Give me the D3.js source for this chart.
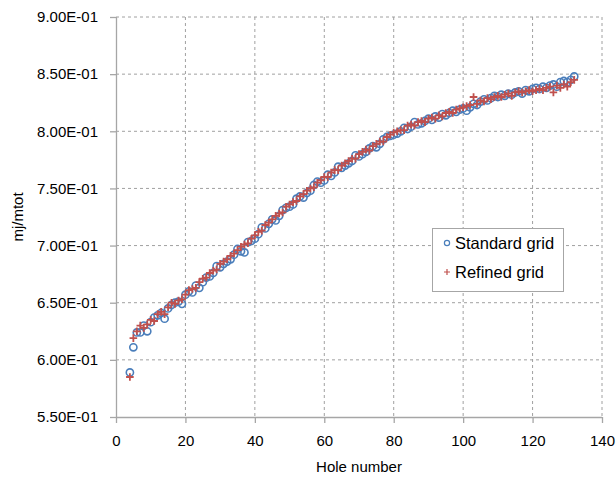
<!DOCTYPE html>
<html>
<head>
<meta charset="utf-8">
<script src="https://cdn.jsdelivr.net/npm/d3@7"></script>
<style>
  html, body { margin: 0; padding: 0; background: #fff; }
  svg { display: block; }
  text { font-family: "Liberation Sans", Arial, sans-serif; fill: #000; }
</style>
</head>
<body>
<svg id="chart" width="616" height="478"></svg>
<script>
// Hole numbers 4..132
const holes = [4,5,6,7,8,9,10,11,12,13,14,15,16,17,18,19,20,21,22,23,24,25,26,27,28,29,30,31,32,33,34,35,36,37,38,39,40,41,42,43,44,45,46,47,48,49,50,51,52,53,54,55,56,57,58,59,60,61,62,63,64,65,66,67,68,69,70,71,72,73,74,75,76,77,78,79,80,81,82,83,84,85,86,87,88,89,90,91,92,93,94,95,96,97,98,99,100,101,102,103,104,105,106,107,108,109,110,111,112,113,114,115,116,117,118,119,120,121,122,123,124,125,126,127,128,129,130,131,132];

// mj/mtot, standard grid
const standardGrid = [0.589,0.611,0.624,0.624,0.630,0.625,0.633,0.637,0.639,0.641,0.636,0.645,0.648,0.650,0.651,0.649,0.657,0.660,0.659,0.665,0.663,0.668,0.672,0.673,0.676,0.682,0.681,0.684,0.686,0.688,0.692,0.697,0.695,0.694,0.703,0.704,0.706,0.710,0.716,0.715,0.719,0.723,0.722,0.726,0.731,0.733,0.734,0.736,0.741,0.743,0.742,0.746,0.748,0.753,0.756,0.755,0.757,0.762,0.761,0.764,0.769,0.768,0.770,0.772,0.774,0.779,0.778,0.780,0.782,0.785,0.787,0.786,0.789,0.793,0.795,0.796,0.797,0.798,0.800,0.803,0.802,0.804,0.808,0.806,0.807,0.809,0.811,0.810,0.813,0.812,0.815,0.814,0.816,0.818,0.817,0.819,0.820,0.818,0.821,0.824,0.823,0.826,0.828,0.827,0.829,0.831,0.830,0.832,0.831,0.833,0.832,0.834,0.835,0.833,0.836,0.835,0.837,0.838,0.837,0.839,0.838,0.840,0.841,0.839,0.843,0.844,0.843,0.845,0.848];

// mj/mtot, refined grid
const refinedGrid = [0.585,0.619,0.625,0.630,0.628,0.631,0.635,0.634,0.640,0.642,0.640,0.646,0.650,0.649,0.652,0.653,0.657,0.661,0.662,0.663,0.668,0.671,0.672,0.676,0.678,0.679,0.684,0.686,0.688,0.691,0.693,0.696,0.699,0.701,0.702,0.706,0.709,0.712,0.713,0.718,0.720,0.723,0.726,0.728,0.729,0.734,0.736,0.738,0.739,0.743,0.745,0.748,0.750,0.751,0.755,0.757,0.760,0.760,0.764,0.766,0.766,0.770,0.772,0.774,0.776,0.776,0.780,0.782,0.784,0.783,0.787,0.789,0.791,0.791,0.795,0.797,0.799,0.800,0.801,0.801,0.805,0.806,0.805,0.808,0.809,0.808,0.811,0.812,0.811,0.814,0.813,0.816,0.817,0.816,0.819,0.820,0.821,0.822,0.823,0.830,0.824,0.827,0.826,0.829,0.828,0.830,0.831,0.830,0.832,0.833,0.831,0.834,0.835,0.834,0.835,0.836,0.835,0.836,0.837,0.836,0.838,0.839,0.834,0.840,0.838,0.841,0.839,0.843,0.845];

const xTicks = [0,20,40,60,80,100,120,140];
const yTicks = [0.55,0.60,0.65,0.70,0.75,0.80,0.85,0.90];
const yTickLabels = ["5.50E-01","6.00E-01","6.50E-01","7.00E-01","7.50E-01","8.00E-01","8.50E-01","9.00E-01"];
const seriesNames = ["Standard grid","Refined grid"];

const blue = "#4a7ebb";
const red = "#c0504d";
const gridColor = "#a0a0a0";
const axisColor = "#a6a6a6";

const svg = d3.select("#chart");
const plot = { left: 116, right: 602, top: 17, bottom: 417 };

const x = d3.scaleLinear().domain([0, 140]).range([plot.left, plot.right]);
const y = d3.scaleLinear().domain([0.55, 0.90]).range([plot.bottom, plot.top]);

// dashed gridlines
const grid = svg.append("g");
grid.selectAll("line.v").data(xTicks.slice(1)).join("line")
  .attr("x1", d => x(d)).attr("x2", d => x(d))
  .attr("y1", plot.top).attr("y2", plot.bottom)
  .attr("stroke", gridColor).attr("stroke-width", 1).attr("stroke-dasharray", "3,3");
grid.selectAll("line.h").data(yTicks.slice(1)).join("line")
  .attr("x1", plot.left).attr("x2", plot.right)
  .attr("y1", d => y(d)).attr("y2", d => y(d))
  .attr("stroke", gridColor).attr("stroke-width", 1).attr("stroke-dasharray", "3,3");

// axes
const xAxis = svg.append("g")
  .attr("transform", `translate(0,${plot.bottom})`)
  .call(d3.axisBottom(x).tickValues(xTicks).tickSize(6).tickPadding(12).tickFormat(d3.format("d")));
const yAxis = svg.append("g")
  .attr("transform", `translate(${plot.left},0)`)
  .call(d3.axisLeft(y).tickValues(yTicks).tickSize(6).tickPadding(12)
    .tickFormat((d, i) => yTickLabels[i]));

[xAxis, yAxis].forEach(a => {
  a.select(".domain").attr("stroke", axisColor).attr("stroke-width", 1.3);
  a.selectAll(".tick line").attr("stroke", axisColor).attr("stroke-width", 1.3);
  a.selectAll(".tick text").attr("font-size", "15px").attr("fill", "#000")
    .attr("font-family", "Liberation Sans, Arial, sans-serif");
});
yAxis.select(".domain").attr("d", `M0.5,${plot.bottom}V${plot.top}`);
xAxis.select(".domain").attr("d", `M${plot.left},0.5H${plot.right}`);

// axis titles
svg.append("text")
  .attr("x", (plot.left + plot.right) / 2).attr("y", 472)
  .attr("text-anchor", "middle").attr("font-size", "15px")
  .text("Hole number");
svg.append("text")
  .attr("transform", `translate(23,${(plot.top + plot.bottom) / 2}) rotate(-90)`)
  .attr("text-anchor", "middle").attr("font-size", "15px")
  .text("mj/mtot");

// data points: standard grid first, refined grid drawn over it
const standardPts = holes.map((h, i) => ({ h, v: standardGrid[i] }));
const refinedPts = holes.map((h, i) => ({ h, v: refinedGrid[i] }));

const plusPath = s => `M${-s},0H${s}M0,${-s}V${s}`;

svg.append("g").selectAll("circle").data(standardPts).join("circle")
  .attr("cx", d => x(d.h)).attr("cy", d => y(d.v)).attr("r", 3.6)
  .attr("fill", "none").attr("stroke", blue).attr("stroke-width", 1.6);

svg.append("g").selectAll("path").data(refinedPts).join("path")
  .attr("transform", d => `translate(${x(d.h)},${y(d.v)})`)
  .attr("d", plusPath(3.8))
  .attr("stroke", red).attr("stroke-width", 1.8).attr("fill", "none");

// legend
const legend = svg.append("g");
legend.append("rect")
  .attr("x", 432.5).attr("y", 228.5).attr("width", 131).attr("height", 63)
  .attr("fill", "#fff").attr("stroke", axisColor).attr("stroke-width", 1);
legend.append("circle").attr("cx", 447).attr("cy", 243).attr("r", 2.6)
  .attr("fill", "none").attr("stroke", blue).attr("stroke-width", 1.2);
legend.append("path").attr("transform", "translate(447,272)").attr("d", plusPath(3))
  .attr("stroke", red).attr("stroke-width", 1.2);
legend.append("text").attr("x", 455).attr("y", 249).attr("font-size", "16.5px").text(seriesNames[0]);
legend.append("text").attr("x", 455).attr("y", 278).attr("font-size", "16.5px").text(seriesNames[1]);
</script>
</body>
</html>
